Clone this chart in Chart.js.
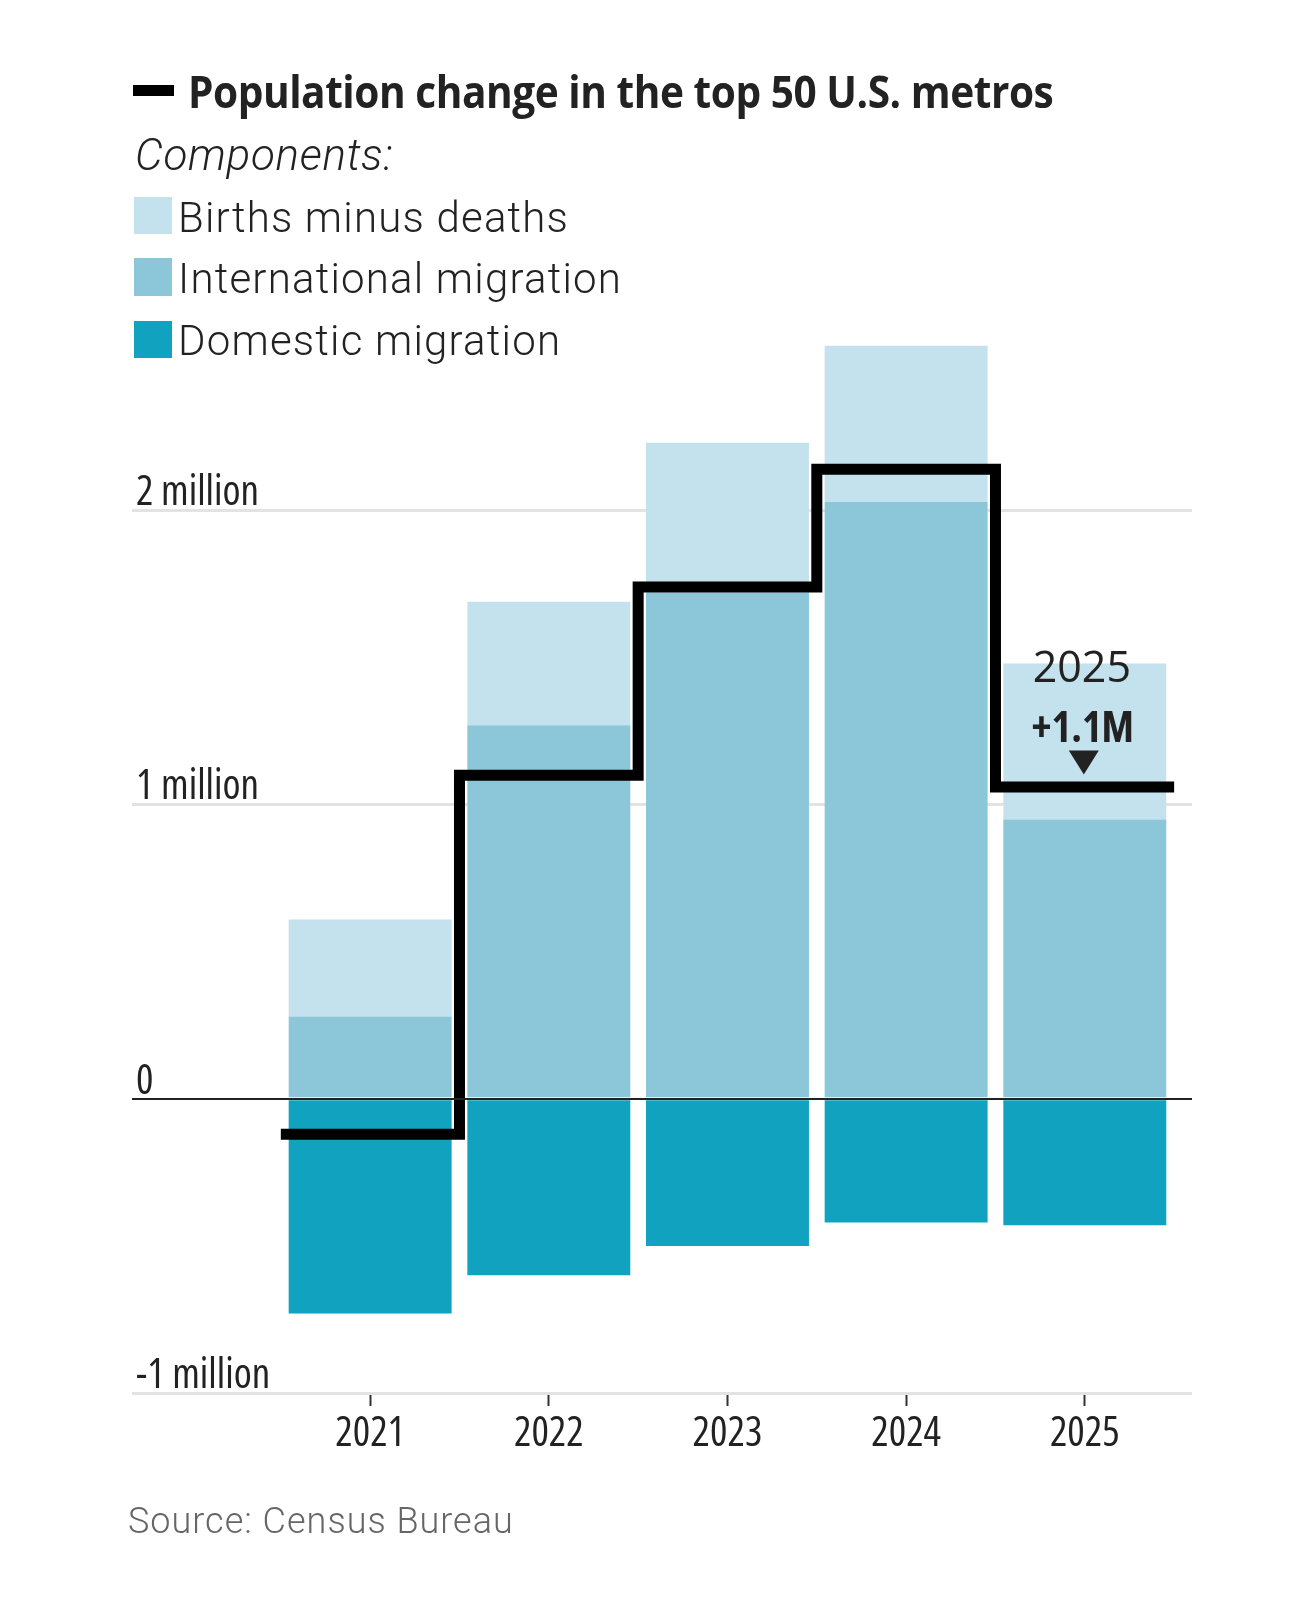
<!DOCTYPE html>
<html>
<head>
<meta charset="utf-8">
<title>Population change in the top 50 U.S. metros</title>
<script src="https://cdn.jsdelivr.net/npm/chart.js@4.4.1/dist/chart.umd.min.js"></script>
<style>
html, body { margin: 0; padding: 0; background: #fff; }
#wrap { position: relative; width: 1310px; height: 1602px; overflow: hidden; }
#chartCanvas { position: absolute; left: 0; top: 0; }
.txt { position: absolute; white-space: nowrap; color: #222; line-height: 1; }
.swatch { position: absolute; }
#title { left: 188px; top: 68px; font-family: "Open Sans", Roboto, sans-serif; font-weight: 700; font-size: 45px; letter-spacing: -0.5px; transform-origin: 0 0; }
#components { left: 135px; top: 133px; font-family: Roboto, sans-serif; font-weight: 300; font-style: italic; font-size: 44px; letter-spacing: 0.7px; }
.leg { left: 178px; font-family: Roboto, sans-serif; font-weight: 300; font-size: 42px; letter-spacing: 1.2px; }
#source { left: 128px; top: 1503px; font-family: Roboto, sans-serif; font-weight: 300; font-size: 36px; letter-spacing: 1px; color: #666; }
</style>
</head>
<body>
<div id="wrap">
    <canvas id="chartCanvas" width="1310" height="1602"></canvas>

    <div class="swatch" style="left:133px; top:85px; width:41px; height:11px; background:#000;"></div>
    <div class="txt" id="title">Population change in the top 50 U.S. metros</div>
    <div class="txt" id="components">Components:</div>

    <div class="swatch" id="swBirths" style="left:134px; top:197px; width:38px; height:37px;"></div>
    <div class="txt leg" style="top:197px;">Births minus deaths</div>
    <div class="swatch" id="swIntl" style="left:134px; top:258px; width:38px; height:38px;"></div>
    <div class="txt leg" style="top:258px;">International migration</div>
    <div class="swatch" id="swDom" style="left:134px; top:321px; width:38px; height:37px;"></div>
    <div class="txt leg" style="top:320px;">Domestic migration</div>

    <div class="txt" id="source">Source: Census Bureau</div>
</div>

<script>
// data (millions of people)
var years = [2021, 2022, 2023, 2024, 2025];
var birthsMinusDeaths = [0.33, 0.42, 0.51, 0.53, 0.53];
var internationalMigration = [0.28, 1.27, 1.72, 2.03, 0.95];
var domesticMigration = [-0.73, -0.60, -0.50, -0.42, -0.43];
var netChange = [-0.12, 1.10, 1.74, 2.14, 1.06];

var yTickValues = [-1, 0, 1, 2];
var yTickLabels = ["-1 million", "0", "1 million", "2 million"];

var colorBirths = "#c4e2ee";
var colorIntl = "#8bc7d8";
var colorDom = "#10a2be";

document.getElementById("swBirths").style.background = colorBirths;
document.getElementById("swIntl").style.background = colorIntl;
document.getElementById("swDom").style.background = colorDom;

// squeeze the headline to the width it has in the original (semi-condensed look)
var titleEl = document.getElementById("title");
titleEl.style.transform = "scaleX(" + (865 / titleEl.offsetWidth) + ")";

// "condensed" rides in the weight slot of the canvas font string
var axisFont = { family: "'Open Sans', Roboto, sans-serif", size: 41, weight: "condensed" };
var netLineWidth = 11;

// turn a values array into {x, y} points on the year axis
function toPoints(values) {
    var pts = [];
    for (var i = 0; i < years.length; i++) {
        pts.push({ x: years[i], y: values[i] });
    }
    return pts;
}

// step line: stretch half a year past the first and last bar
function stepPoints() {
    var pts = toPoints(netChange);
    var last = years.length - 1;
    pts.unshift({ x: years[0] - 0.5, y: netChange[0] });
    pts.push({ x: years[last] + 0.5, y: netChange[last] });
    return pts;
}

// zero line sits over the bars, plus the 2025 callout
var overlayPlugin = {
    id: "overlay",
    afterDatasetsDraw: function (chart) {
        var ctx = chart.ctx;
        var xs = chart.scales.x;
        var ys = chart.scales.y;
        var area = chart.chartArea;

        ctx.save();
        var y0 = Math.round(ys.getPixelForValue(0));
        ctx.strokeStyle = "#222";
        ctx.lineWidth = 2;
        ctx.beginPath();
        ctx.moveTo(area.left, y0);
        ctx.lineTo(area.right, y0);
        ctx.stroke();

        var i = years.length - 1;
        var cx = xs.getPixelForValue(years[i]);
        var tip = ys.getPixelForValue(netChange[i]) - netLineWidth / 2 - 7;

        ctx.fillStyle = "#222";
        ctx.beginPath();
        ctx.moveTo(cx - 16, tip - 24);
        ctx.lineTo(cx + 14, tip - 24);
        ctx.lineTo(cx - 1, tip);
        ctx.closePath();
        ctx.fill();

        ctx.textAlign = "center";
        ctx.textBaseline = "alphabetic";
        ctx.font = "bold semi-condensed 42px 'Open Sans', Roboto, sans-serif";
        ctx.fillText("+" + netChange[i].toFixed(1) + "M", cx - 2, tip - 33);
        ctx.font = "43px 'Open Sans', Roboto, sans-serif";
        ctx.fillText(String(years[i]), cx - 3, tip - 93);
        ctx.restore();
    }
};

var config = {
    type: "bar",
    data: {
        datasets: [
            {
                type: "line",
                label: "Population change",
                data: stepPoints(),
                borderColor: "#000",
                borderWidth: netLineWidth,
                stepped: "middle",
                pointRadius: 0,
                fill: false,
                stack: "net",
                order: 0,
                borderJoinStyle: "miter",
                borderCapStyle: "butt"
            },
            {
                label: "International migration",
                data: toPoints(internationalMigration),
                backgroundColor: colorIntl,
                stack: "comp",
                order: 1,
                barPercentage: 0.912,
                categoryPercentage: 1
            },
            {
                label: "Births minus deaths",
                data: toPoints(birthsMinusDeaths),
                backgroundColor: colorBirths,
                stack: "comp",
                order: 1,
                barPercentage: 0.912,
                categoryPercentage: 1
            },
            {
                label: "Domestic migration",
                data: toPoints(domesticMigration),
                backgroundColor: colorDom,
                stack: "comp",
                order: 1,
                barPercentage: 0.912,
                categoryPercentage: 1
            }
        ]
    },
    options: {
        responsive: false,
        animation: false,
        layout: {
            padding: { left: 132, right: 118, top: 334, bottom: 129 }
        },
        plugins: {
            legend: { display: false },
            tooltip: { enabled: false }
        },
        scales: {
            x: {
                type: "linear",
                stacked: true,
                offset: false,
                min: years[0] - 1.333,
                max: years[years.length - 1] + 0.6,
                afterBuildTicks: function (scale) {
                    scale.ticks = years.map(function (v) { return { value: v }; });
                },
                afterFit: function (scale) { scale.height = 80; },
                border: { display: false },
                grid: {
                    offset: false,
                    drawOnChartArea: false,
                    drawTicks: true,
                    tickLength: 13,
                    tickColor: "#333",
                    tickWidth: 2
                },
                ticks: {
                    padding: 4,
                    color: "#222",
                    font: axisFont,
                    maxRotation: 0,
                    autoSkip: false,
                    callback: function (value) { return String(value); }
                }
            },
            y: {
                type: "linear",
                stacked: true,
                min: -1,
                max: 2.6,
                afterBuildTicks: function (scale) {
                    scale.ticks = yTickValues.map(function (v) { return { value: v }; });
                },
                afterFit: function (scale) { scale.width = 0; },
                border: { display: false },
                grid: {
                    drawTicks: false,
                    lineWidth: 3,
                    color: function (ctx) {
                        return ctx.tick && ctx.tick.value === 0 ? "rgba(0,0,0,0)" : "#e3e3e3";
                    }
                },
                ticks: {
                    mirror: true,
                    padding: 4,
                    labelOffset: -17,
                    color: "#222",
                    font: axisFont,
                    callback: function (value, index) { return yTickLabels[index]; }
                }
            }
        }
    },
    plugins: [overlayPlugin]
};

var chart = new Chart(document.getElementById("chartCanvas").getContext("2d"), config);
</script>
</body>
</html>
